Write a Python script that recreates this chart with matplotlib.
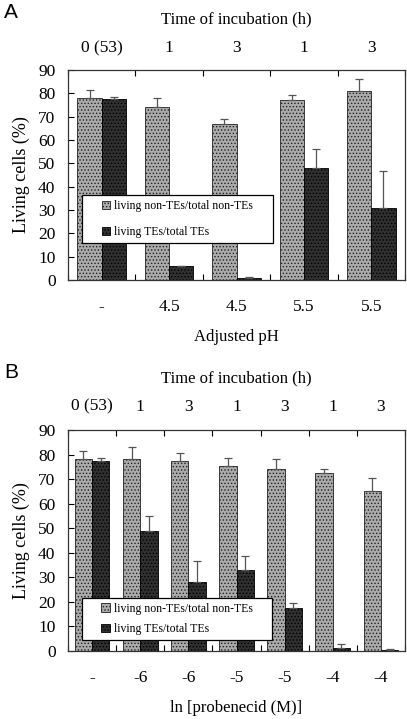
import matplotlib
matplotlib.use("Agg")
import matplotlib.pyplot as plt
from matplotlib.patches import Rectangle
import numpy as np

plt.rcParams['font.family'] = ['Liberation Serif', 'DejaVu Serif']
plt.rcParams['hatch.linewidth'] = 0.6

# Panel A data
a_ph = ["-", "4.5", "4.5", "5.5", "5.5"]
a_time = ["0 (53)", "1", "3", "1", "3"]
a_nonte = [78, 74, 67, 77, 81]
a_nonte_err = [3.5, 4, 2, 2.5, 5]
a_te = [77.5, 5.8, 0.7, 48, 31]
a_te_err = [1, 0.3, 0.4, 8, 15.5]

# Panel B data
b_prob = ["-", "-6", "-6", "-5", "-5", "-4", "-4"]
b_time = ["0 (53)", "1", "3", "1", "3", "1", "3"]
b_nonte = [78, 78, 77.5, 75.5, 74, 72.5, 65]
b_nonte_err = [3.5, 5, 3, 3, 4, 1.5, 5.5]
b_te = [77.5, 49, 28, 33, 17.5, 1.2, 0.4]
b_te_err = [1, 6, 8.5, 5.5, 2, 1.8, 0.4]

leg_labels = ["living non-TEs/total non-TEs", "living TEs/total TEs"]
yticks = list(range(0, 100, 10))

W, H = 407, 719
fig = plt.figure(figsize=(W / 100, H / 100), dpi=100)

def panel(rect, cats, times, nonte, nonte_err, te, te_err, xlabel, letter,
          box, lspace, toppad):
    ax = fig.add_axes(rect)
    n = len(cats)
    x = np.arange(n)
    bw = 0.36
    ekw = dict(ecolor='#555555', elinewidth=0.9, capsize=3, capthick=0.9)
    b1 = ax.bar(x - bw / 2, nonte, bw, yerr=[np.zeros(n), nonte_err],
                color='#ababab', edgecolor='#222222', hatch='.....', linewidth=0.6,
                error_kw=ekw, label=leg_labels[0])
    b2 = ax.bar(x + bw / 2, te, bw, yerr=[np.zeros(n), te_err],
                color='#303030', edgecolor='#000000', hatch='.....', linewidth=0.6,
                error_kw=ekw, label=leg_labels[1])
    ax.set_xlim(-0.5, n - 0.5)
    ax.set_ylim(0, 90)
    ax.set_yticks(yticks)
    ax.tick_params(axis='y', labelsize=12.5, direction='in', length=4, width=0.8, pad=9)
    ax.set_xticks(x)
    ax.set_xticklabels(cats, fontsize=12.5)
    ax.tick_params(axis='x', which='major', length=0, pad=14)
    ax.set_xticks(np.arange(n + 1) - 0.5, minor=True)
    ax.tick_params(axis='x', which='minor', direction='in', length=4, width=0.8,
                   top=True, bottom=True)
    ax.set_xlabel(xlabel, fontsize=12, labelpad=10)
    ax.set_ylabel("Living cells (%)", fontsize=13, labelpad=6)
    for s in ax.spines.values():
        s.set_linewidth(0.9)
        s.set_color('#333333')
    sec = ax.secondary_xaxis('top')
    sec.set_xticks(x)
    sec.set_xticklabels(times, fontsize=12.5)
    sec.tick_params(length=0, pad=toppad)
    sec.set_xlabel("Time of incubation (h)", fontsize=12, labelpad=12)
    for s in sec.spines.values():
        s.set_visible(False)
    bx, by, bwid, bh = box
    ax.add_patch(Rectangle((bx, by), bwid, bh, transform=ax.transAxes,
                           facecolor='white', edgecolor='black', linewidth=0.9,
                           zorder=5, clip_on=False))
    leg = ax.legend(handles=[b1, b2], loc='center', bbox_to_anchor=(bx, by, bwid, bh),
                    fontsize=8.5, frameon=False, handlelength=0.7,
                    handleheight=0.7, handletextpad=0.35, labelspacing=lspace,
                    borderpad=0, borderaxespad=0)
    leg.set_zorder(6)
    fig.text(4 / W, rect[1] + rect[3] + 48 / H, letter, fontsize=15,
             family='Liberation Sans', va='bottom', ha='left')
    return ax

panel([68 / W, 1 - 280 / H, 337 / W, 210 / H], a_ph, a_time, a_nonte, a_nonte_err,
      a_te, a_te_err, "Adjusted pH", "A", (0.0415, 0.176, 0.567, 0.229), 1.15, 10)
panel([68 / W, 1 - 651 / H, 337 / W, 221 / H], b_prob, b_time, b_nonte, b_nonte_err,
      b_te, b_te_err, "ln [probenecid (M)]", "B", (0.042, 0.05, 0.563, 0.19), 0.72, 11)

fig.savefig("out.png", dpi=100)
